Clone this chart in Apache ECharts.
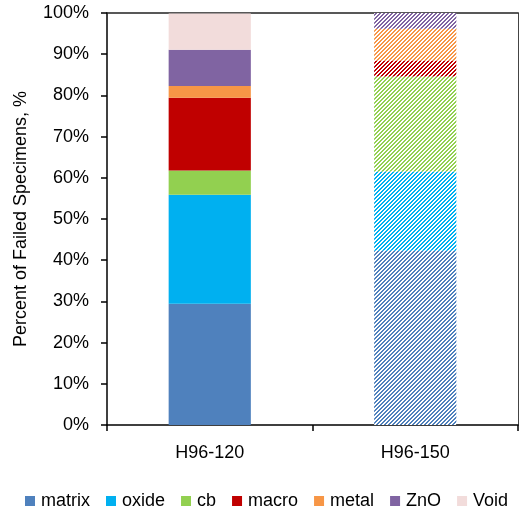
<!DOCTYPE html>
<html>
<head>
<meta charset="utf-8">
<script src="https://cdn.jsdelivr.net/npm/echarts@6/dist/echarts.min.js"></script>
<style>html,body{margin:0;padding:0;background:#fff;}#c{width:519px;height:515px;}</style>
</head>
<body>
<div id="c"></div>
<script>
var categories = ['H96-120', 'H96-150'];
var seriesNames = ['matrix', 'oxide', 'cb', 'macro', 'metal', 'ZnO', 'Void'];
var matrix = [29.4, 42.3];
var oxide  = [26.5, 19.2];
var cb     = [5.9, 23.1];
var macro  = [17.6, 3.85];
var metal  = [2.9, 7.7];
var ZnO    = [8.8, 3.85];
var Void   = [8.8, 0];
var yTicks = [0, 10, 20, 30, 40, 50, 60, 70, 80, 90, 100];

var colors = ['#4F81BD', '#00B0F0', '#92D050', '#C00000', '#F79646', '#8064A2', '#F2DCDB'];
var values = [matrix, oxide, cb, macro, metal, ZnO, Void];

function makePattern(color) {
  var c = document.createElement('canvas');
  c.width = 4; c.height = 4;
  var ctx = c.getContext('2d');
  ctx.fillStyle = '#ffffff';
  ctx.fillRect(0, 0, 4, 4);
  ctx.fillStyle = color;
  for (var x = 0; x < 4; x++) {
    for (var y = 0; y < 4; y++) {
      if (((x + y) % 4) < 2) ctx.fillRect(x, y, 1, 1);
    }
  }
  return { image: c, repeat: 'repeat' };
}

var series = seriesNames.map(function (name, i) {
  return {
    name: name,
    type: 'bar',
    stack: 'total',
    barWidth: '40%',
    itemStyle: { color: colors[i] },
    emphasis: { disabled: true },
    data: values[i].map(function (v, j) {
      if (j === 1) return { value: v, itemStyle: { color: makePattern(colors[i]) } };
      return v;
    })
  };
});

var chart = echarts.init(document.getElementById('c'), null, { renderer: 'canvas' });
chart.setOption({
  animation: false,
  textStyle: { fontFamily: 'Liberation Sans, Arial, sans-serif' },
  grid: { left: 107, right: 1, top: 13, bottom: 90, containLabel: false },
  legend: {
    data: seriesNames,
    left: 25,
    top: 492,
    width: 494,
    padding: 0,
    icon: 'rect',
    itemWidth: 10,
    itemHeight: 10,
    itemGap: 16,
    textStyle: { fontSize: 18, color: '#000', fontFamily: 'Liberation Sans, Arial, sans-serif', padding: [0, 0, 0, 1] }
  },
  xAxis: [{
    type: 'category',
    data: categories,
    position: 'bottom',
    axisLine: { lineStyle: { color: '#000', width: 1.5 } },
    axisTick: { show: true, length: 6, lineStyle: { color: '#000', width: 1.5 } },
    axisLabel: { fontSize: 18, color: '#000', margin: 19 }
  }, {
    type: 'category',
    data: categories,
    position: 'top',
    axisLine: { show: true, onZero: false, lineStyle: { color: '#222', width: 1.5 } },
    axisTick: { show: false },
    axisLabel: { show: false }
  }],
  yAxis: [{
    type: 'value',
    min: 0,
    max: 100,
    interval: 10,
    name: 'Percent of Failed Specimens, %',
    nameLocation: 'middle',
    nameGap: 77,
    nameTextStyle: { fontSize: 18, color: '#000' },
    axisLine: { show: true, lineStyle: { color: '#000', width: 1.5 } },
    axisTick: { show: true, length: 6, lineStyle: { color: '#000', width: 1.5 } },
    axisLabel: { fontSize: 18, color: '#000', margin: 18, formatter: '{value}%' },
    splitLine: { show: false }
  }, {
    type: 'value',
    position: 'right',
    min: 0,
    max: 100,
    axisLine: { show: true, onZero: false, lineStyle: { color: '#444', width: 1 } },
    axisTick: { show: false },
    axisLabel: { show: false },
    splitLine: { show: false }
  }],
  series: series
});
</script>
</body>
</html>
